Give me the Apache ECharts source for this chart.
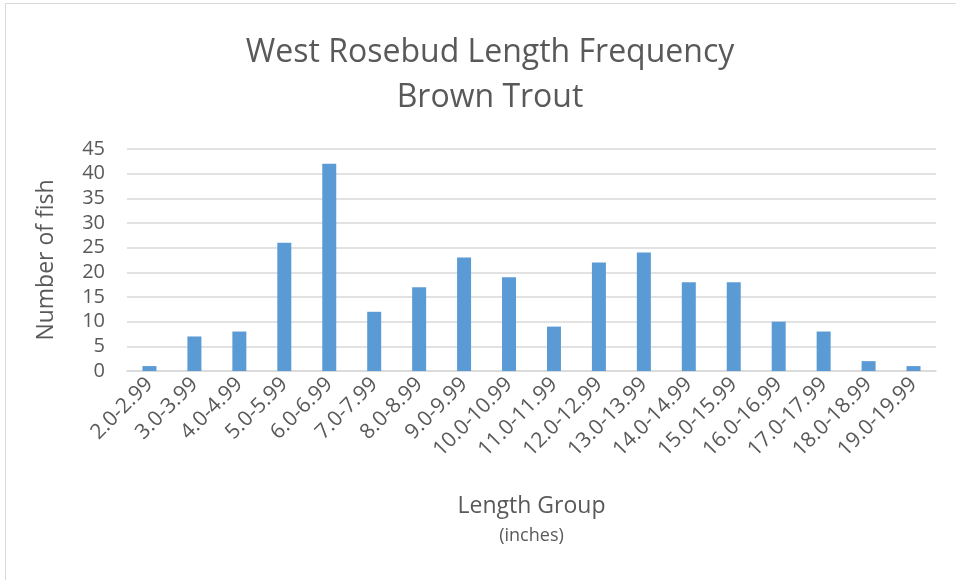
<!DOCTYPE html>
<html lang="en">
  <head>
    <meta charset="UTF-8" />
    <title>West Rosebud Length Frequency</title>
    <script src="https://cdn.jsdelivr.net/npm/echarts@6/dist/echarts.min.js"></script>
    <style>
      body { margin: 0; background: #fff; }
      #frame {
        position: absolute; left: 5px; top: 3px;
        width: 960px; height: 590px;
        border: 1px solid #d9d9d9;
      }
      #main { position: absolute; left: 0; top: 0; width: 956px; height: 580px; }
    </style>
  </head>
  <body>
    <div id="frame"></div>
    <div id="main"></div>
    <script>
      // length groups (inches) and counts
      var groups = ["2.0-2.99", "3.0-3.99", "4.0-4.99", "5.0-5.99", "6.0-6.99", "7.0-7.99",
        "8.0-8.99", "9.0-9.99", "10.0-10.99", "11.0-11.99", "12.0-12.99", "13.0-13.99",
        "14.0-14.99", "15.0-15.99", "16.0-16.99", "17.0-17.99", "18.0-18.99", "19.0-19.99"];
      var fishCount = [1, 7, 8, 26, 42, 12, 17, 23, 19, 9, 22, 24, 18, 18, 10, 8, 2, 1];

      var font = "Open Sans";
      var grey = "#595959";

      var myChart = echarts.init(document.getElementById("main"));
      var option = {
        animation: false,
        title: {
          text: "West Rosebud Length Frequency\nBrown Trout",
          left: 485,
          top: 25,
          textAlign: "center",
          textStyle: { fontFamily: font, fontSize: 32, fontWeight: "normal", color: grey, lineHeight: 45 }
        },
        grid: { left: 127, right: 20, top: 149, bottom: 209, containLabel: false },
        xAxis: {
          type: "category",
          data: groups,
          name: "Length Group\n{s|(inches)}",
          nameLocation: "middle",
          nameGap: 120,
          nameTextStyle: {
            fontFamily: font, fontSize: 23, color: grey, lineHeight: 30,
            rich: { s: { fontFamily: font, fontSize: 18, color: grey } }
          },
          axisLine: { lineStyle: { color: "#d9d9d9", width: 1.5 } },
          axisTick: { show: false },
          axisLabel: { rotate: 45, interval: 0, fontFamily: font, fontSize: 21, color: grey, margin: 10 }
        },
        yAxis: {
          type: "value",
          min: 0,
          max: 45,
          interval: 5,
          name: "Number of fish",
          nameLocation: "middle",
          nameGap: 69,
          nameTextStyle: { fontFamily: font, fontSize: 23, color: grey },
          axisLine: { show: false },
          axisTick: { show: false },
          splitLine: { lineStyle: { color: "#d9d9d9", width: 1.5 } },
          axisLabel: { fontFamily: font, fontSize: 20, color: grey, margin: 22 }
        },
        series: [{
          type: "bar",
          data: fishCount,
          barWidth: 14,
          itemStyle: { color: "#5b9bd5" }
        }]
      };
      myChart.setOption(option);
    </script>
  </body>
</html>
